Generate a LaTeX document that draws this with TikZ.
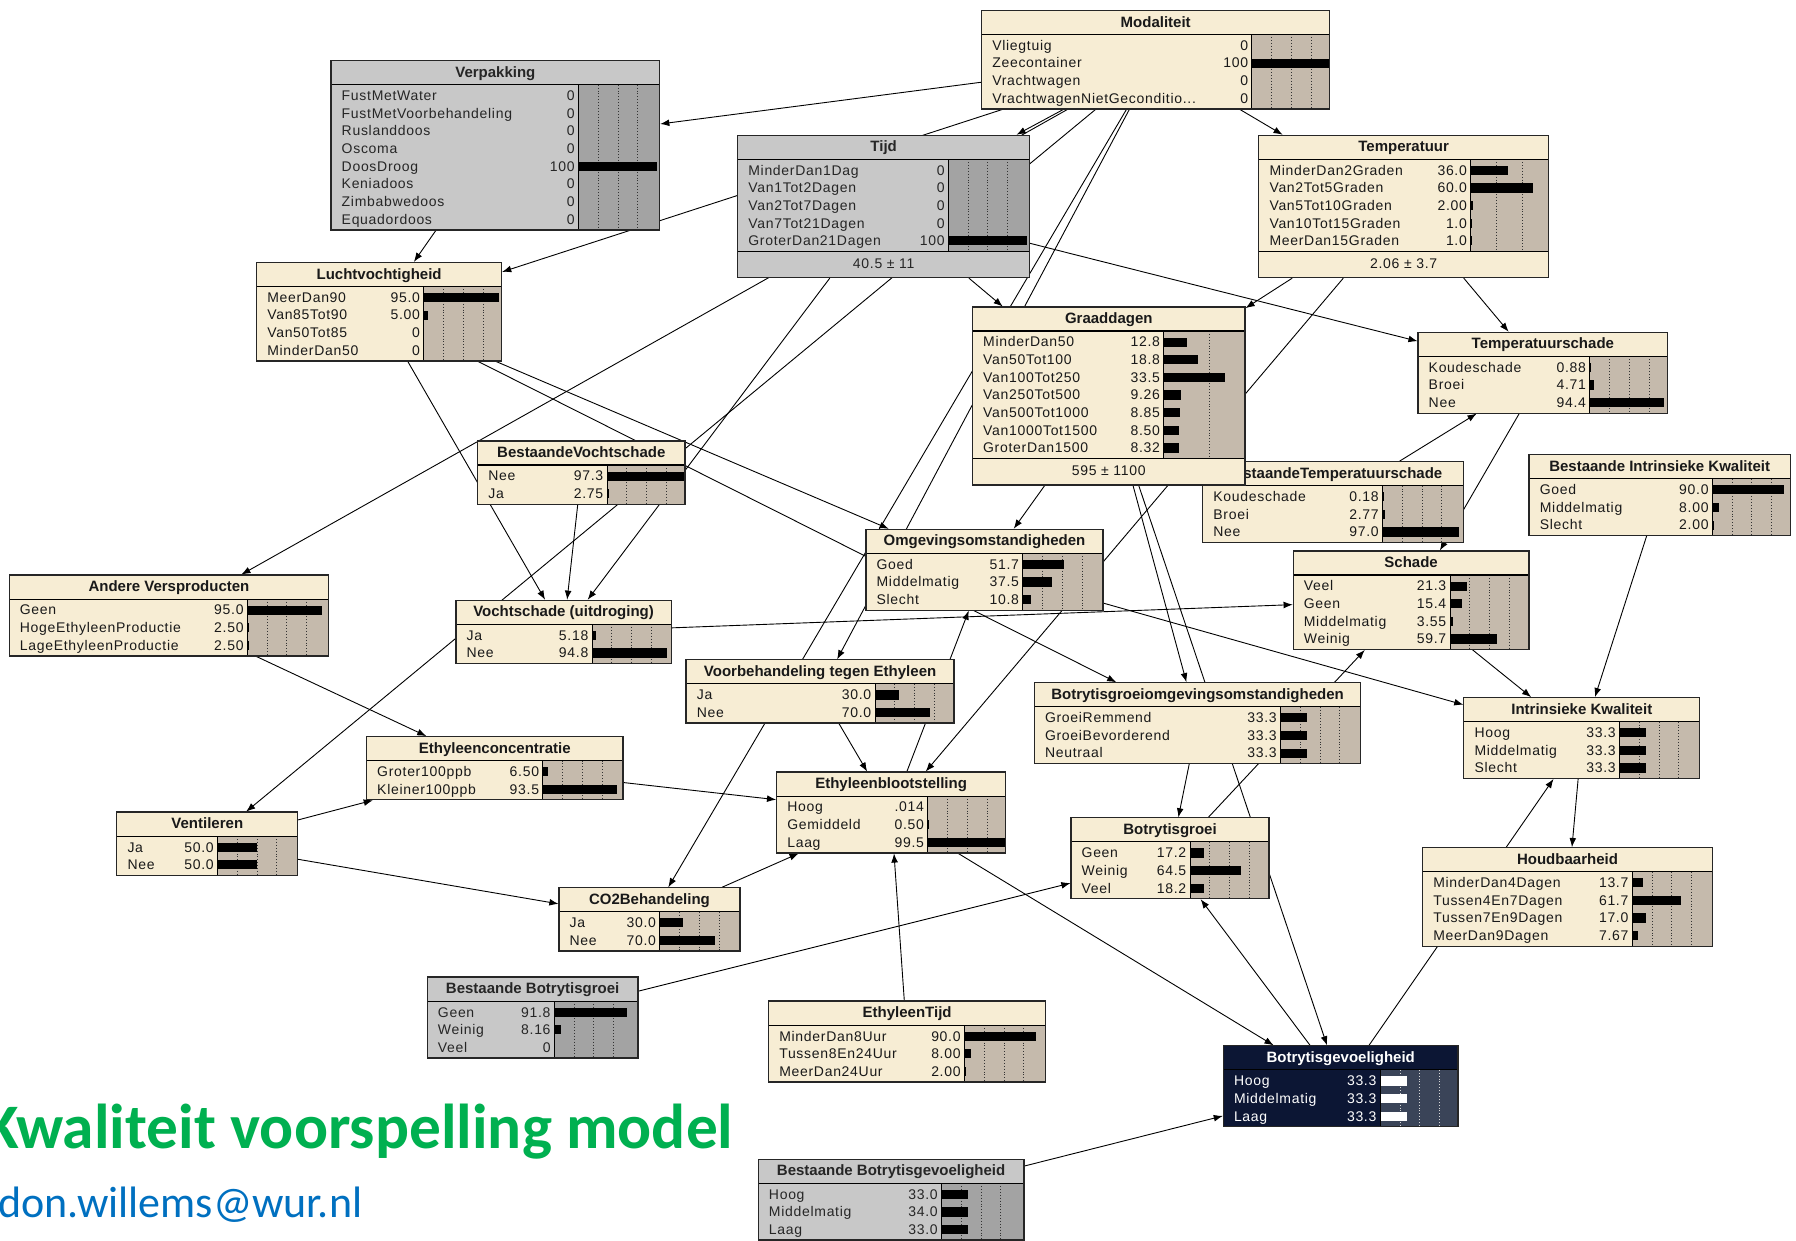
\documentclass[tikz,border=0pt]{standalone}
\usepackage{fontspec}
\setmainfont{Liberation Sans}
\newfontfamily\carlito{Carlito}
\usetikzlibrary{arrows.meta,fit}
\pgfdeclarelayer{back}
\pgfdeclarelayer{edges}
\pgfsetlayers{back,edges,main}
\definecolor{bncream}{RGB}{247,237,212}
\definecolor{bntan}{RGB}{197,186,172}
\definecolor{bngray}{RGB}{200,200,200}
\definecolor{bngraybar}{RGB}{163,163,163}
\definecolor{bnnavy}{RGB}{12,22,52}
\definecolor{bnnavybar}{RGB}{58,68,88}
\definecolor{kgreen}{RGB}{0,176,80}
\definecolor{kblue}{RGB}{0,112,192}
\def\bnddd{...}
\def\bnschemecream{\def\bnbody{bncream}\def\bnbar{bntan}\def\bnfg{black}\def\bntxt{black!90}\def\bndot{black!80}}
\def\bnschemegray{\def\bnbody{bngray}\def\bnbar{bngraybar}\def\bnfg{black}\def\bntxt{black!85}\def\bndot{black!80}}
\def\bnschemenavy{\def\bnbody{bnnavy}\def\bnbar{bnnavybar}\def\bnfg{white}\def\bntxt{white}\def\bndot{white!85!black}}
\def\bnfooter{}
\def\bnscale{0.69}
\tikzset{
  rowtext/.style={font=\fontsize{7}{8}\selectfont\addfontfeature{LetterSpace=5}, inner sep=0pt},
  titletext/.style={font=\fontsize{7.5}{9}\selectfont\bfseries, inner sep=0pt},
  link/.style={draw=black, line width=0.45pt, -{Latex[length=4.6pt,width=3.4pt]}},
  geom/.style={inner sep=0pt, draw=none}
}
% #1 name #2 scheme #3 L #4 T #5 R #6 bar-left #7 rows #8 title #9 rows list
\newcommand\bnnode[9]{%
 \begingroup
 \csname bnscheme#2\endcsname
 \pgfmathsetmacro\bnL{#3}\pgfmathsetmacro\bnT{#4}\pgfmathsetmacro\bnR{#5}\pgfmathsetmacro\bnBL{#6}%
 \pgfmathsetmacro\bnTB{#4+21}%
 \pgfmathsetmacro\bnB{#4+24.5+15.4*#7}%
 \ifx\bnfooter\empty \let\bnBB\bnB \else \pgfmathsetmacro\bnBB{\bnB+23}\fi
 \fill[\bnbody] (\bnL,\bnT) rectangle (\bnR,\bnBB);
 \fill[\bnbar] (\bnBL,\bnTB) rectangle (\bnR,\bnB);
 \foreach \q in {25,50,75} {%
   \pgfmathsetmacro\bnx{\bnBL+\q*\bnscale}%
   \pgfmathparse{\bnx<\bnR-1?1:0}%
   \ifnum\pgfmathresult=1 \draw[\bndot, densely dotted, line width=0.45pt] (\bnx,\bnTB) -- (\bnx,\bnB);\fi}
 \foreach \lab/\val/\pct [count=\i] in {#9} {%
   \pgfmathsetmacro\bny{\bnT+23+15.4*(\i-0.5)}%
   \pgfmathsetmacro\bnw{min(\pct*\bnscale,\bnR-\bnBL)}%
   \ifdim\bnw pt>0.01pt \fill[\bnfg] (\bnBL,\bny-4) rectangle ++(\bnw,8);\fi
   \node[rowtext, text=\bntxt, anchor=base west] at (\bnL+9,\bny+4.2) {\lab};
   \node[rowtext, text=\bntxt, anchor=base east] at (\bnBL-3,\bny+4.2) {\val};
 }
 \node[titletext, text=\bntxt, anchor=base] at ({(\bnL+\bnR)/2},\bnT+14.6) {#8};
 \draw[line width=0.55pt] (\bnL,\bnTB) -- (\bnR,\bnTB);
 \draw[line width=0.5pt] (\bnBL,\bnTB) -- (\bnBL,\bnB);
 \ifx\bnfooter\empty\else
   \draw[line width=0.55pt] (\bnL,\bnB) -- (\bnR,\bnB);
   \node[rowtext, text=\bntxt, anchor=base] at ({(\bnL+\bnR)/2},\bnB+15) {\bnfooter};
 \fi
 \draw[line width=0.65pt, black!85] (\bnL,\bnT) rectangle (\bnR,\bnBB);
 \node[geom, fit={(\bnL,\bnT) (\bnR,\bnBB)}] (#1) {};
 \endgroup
}
\begin{document}
\begin{tikzpicture}[x=0.5727pt, y=-0.5727pt]
\useasboundingbox (0,0) rectangle (1568,1083);
\begin{pgfonlayer}{back}
\fill[white] (0,0) rectangle (1568,1083);
\end{pgfonlayer}

\bnnode{moda}{cream}{857}{9}{1161}{1093}{4}{Modaliteit}{Vliegtuig/0/0, Zeecontainer/100/100, Vrachtwagen/0/0, VrachtwagenNietGeconditio\bnddd/0/0}
\bnnode{verp}{gray}{289}{53}{576}{505}{8}{Verpakking}{FustMetWater/0/0, FustMetVoorbehandeling/0/0, Ruslanddoos/0/0, Oscoma/0/0, DoosDroog/100/100, Keniadoos/0/0, Zimbabwedoos/0/0, Equadordoos/0/0}
\def\bnfooter{40.5 ± 11}
\bnnode{tijd}{gray}{644}{118}{899}{828}{5}{Tijd}{MinderDan1Dag/0/0, Van1Tot2Dagen/0/0, Van2Tot7Dagen/0/0, Van7Tot21Dagen/0/0, GroterDan21Dagen/100/100}
\def\bnfooter{2.06 ± 3.7}\def\bnscale{0.9}
\bnnode{temp}{cream}{1099}{118}{1352}{1284}{5}{Temperatuur}{MinderDan2Graden/36.0/36, Van2Tot5Graden/60.0/60, Van5Tot10Graden/2.00/2, Van10Tot15Graden/1.0/1, MeerDan15Graden/1.0/1}
\def\bnfooter{}\def\bnscale{0.69}
\bnnode{lucht}{cream}{224}{229}{438}{370}{4}{Luchtvochtigheid}{MeerDan90/95.0/95, Van85Tot90/5.00/5, Van50Tot85/0/0, MinderDan50/0/0}
\bnnode{bts}{cream}{1050}{403}{1278}{1207}{3}{BestaandeTemperatuurschade}{Koudeschade/0.18/0.18, Broei/2.77/2.77, Nee/97.0/97}
\def\bnfooter{595 ± 1100}\def\bnscale{1.6}
\bnnode{graad}{cream}{849}{268}{1087}{1016}{7}{Graaddagen}{MinderDan50/12.8/12.8, Van50Tot100/18.8/18.8, Van100Tot250/33.5/33.5, Van250Tot500/9.26/9.26, Van500Tot1000/8.85/8.85, Van1000Tot1500/8.50/8.5, GroterDan1500/8.32/8.32}
\def\bnfooter{}\def\bnscale{0.69}
\bnnode{tsch}{cream}{1238}{290}{1456}{1388}{3}{Temperatuurschade}{Koudeschade/0.88/0.88, Broei/4.71/4.71, Nee/94.4/94.4}
\bnnode{bik}{cream}{1335}{397}{1563}{1495}{3}{Bestaande Intrinsieke Kwaliteit}{Goed/90.0/90, Middelmatig/8.00/8, Slecht/2.00/2}
\bnnode{bvs}{cream}{417}{385}{598}{530}{2}{BestaandeVochtschade}{Nee/97.3/97.3, Ja/2.75/2.75}
\bnnode{omg}{cream}{756}{462}{963}{893}{3}{Omgevingsomstandigheden}{Goed/51.7/51.7, Middelmatig/37.5/37.5, Slecht/10.8/10.8}
\bnnode{schade}{cream}{1129}{481}{1335}{1266}{4}{Schade}{Veel/21.3/21.3, Geen/15.4/15.4, Middelmatig/3.55/3.55, Weinig/59.7/59.7}
\bnnode{avp}{cream}{8}{502}{287}{216}{3}{Andere Versproducten}{Geen/95.0/95, HogeEthyleenProductie/2.50/2.5, LageEthyleenProductie/2.50/2.5}
\bnnode{vs}{cream}{398}{524}{586}{517}{2}{Vochtschade (uitdroging)}{Ja/5.18/5.18, Nee/94.8/94.8}
\bnnode{voorb}{cream}{599}{576}{833}{764}{2}{Voorbehandeling tegen Ethyleen}{Ja/30.0/30, Nee/70.0/70}
\bnnode{bgo}{cream}{903}{596}{1188}{1118}{3}{Botrytisgroeiomgevingsomstandigheden}{GroeiRemmend/33.3/33.3, GroeiBevorderend/33.3/33.3, Neutraal/33.3/33.3}
\bnnode{ik}{cream}{1278}{609}{1484}{1414}{3}{Intrinsieke Kwaliteit}{Hoog/33.3/33.3, Middelmatig/33.3/33.3, Slecht/33.3/33.3}
\bnnode{ec}{cream}{320}{643}{544}{474}{2}{Ethyleenconcentratie}{Groter100ppb/6.50/6.5, Kleiner100ppb/93.5/93.5}
\bnnode{eb}{cream}{678}{674}{878}{810}{3}{Ethyleenblootstelling}{Hoog/.014/0.014, Gemiddeld/0.50/0.5, Laag/99.5/99.5}
\bnnode{vent}{cream}{102}{709}{260}{190}{2}{Ventileren}{Ja/50.0/50, Nee/50.0/50}
\bnnode{bg}{cream}{935}{714}{1108}{1039}{3}{Botrytisgroei}{Geen/17.2/17.2, Weinig/64.5/64.5, Veel/18.2/18.2}
\bnnode{houd}{cream}{1242}{740}{1495}{1425}{4}{Houdbaarheid}{MinderDan4Dagen/13.7/13.7, Tussen4En7Dagen/61.7/61.7, Tussen7En9Dagen/17.0/17, MeerDan9Dagen/7.67/7.67}
\bnnode{cotwo}{cream}{488}{775}{646}{576}{2}{CO2Behandeling}{Ja/30.0/30, Nee/70.0/70}
\bnnode{bbg}{gray}{373}{853}{557}{484}{3}{Bestaande Botrytisgroei}{Geen/91.8/91.8, Weinig/8.16/8.16, Veel/0/0}
\bnnode{et}{cream}{671}{874}{913}{842}{3}{EthyleenTijd}{MinderDan8Uur/90.0/90, Tussen8En24Uur/8.00/8, MeerDan24Uur/2.00/2}
\bnnode{bgv}{navy}{1068}{913}{1273}{1205}{3}{Botrytisgevoeligheid}{Hoog/33.3/33.3, Middelmatig/33.3/33.3, Laag/33.3/33.3}
\bnnode{bbgv}{gray}{662}{1012}{894}{822}{3}{Bestaande Botrytisgevoeligheid}{Hoog/33.0/33, Middelmatig/34.0/34, Laag/33.0/33}

\begin{pgfonlayer}{edges}
\draw[link] (moda) -- (verp);
\draw[link] (moda) -- (lucht);
\draw[link] (moda) -- (tijd);
\draw[link] (moda) -- (temp);
\draw[link] (moda) -- (vent);
\draw[link] (moda) -- (avp);
\draw[link] (moda) -- (cotwo);
\draw[link] (moda) -- (voorb);
\draw[link] (verp) -- (lucht);
\draw[link] (tijd) -- (graad);
\draw[link] (tijd) -- (tsch);
\draw[link] (tijd) -- (vs);
\draw[link] (temp) -- (graad);
\draw[link] (temp) -- (tsch);
\draw[link] (temp) -- (eb);
\draw[link] (lucht) -- (vs);
\draw[link] (lucht) -- (omg);
\draw[link] (lucht) -- (bgo);
\draw[link] (bvs) -- (vs);
\draw[link] (graad) -- (omg);
\draw[link] (graad) -- (bgo);
\draw[link] (graad) -- (bgv);
\draw[link] (bts) -- (tsch);
\draw[link] (tsch) -- (schade);
\draw[link] (bik) -- (ik);
\draw[link] (schade) -- (ik);
\draw[link] (omg) -- (ik);
\draw[link] (vs) -- (schade);
\draw[link] (bg) -- (schade);
\draw[link] (bgo) -- (bg);
\draw[link] (bbg) -- (bg);
\draw[link] (bgv) -- (bg);
\draw[link] (bgv) -- (ik);
\draw[link] (ik) -- (houd);
\draw[link] (eb) -- (bgv);
\draw[link] (eb) -- (omg);
\draw[link] (bbgv) -- (bgv);
\draw[link] (et) -- (eb);
\draw[link] (ec) -- (eb);
\draw[link] (voorb) -- (eb);
\draw[link] (cotwo) -- (eb);
\draw[link] (vent) -- (ec);
\draw[link] (vent) -- (cotwo);
\draw[link] (avp) -- (ec);
\end{pgfonlayer}

\node[anchor=base west, inner sep=0pt, text=kgreen, font=\carlito\bfseries\fontsize{31.7}{38}\selectfont] (ttl) at (-14,1003) {Kwaliteit voorspelling model};
\node[anchor=base west, inner sep=0pt, text=kblue, font=\carlito\fontsize{22}{26}\selectfont] (mail) at (-2,1063) {don.willems@wur.nl};
\end{tikzpicture}
\end{document}
